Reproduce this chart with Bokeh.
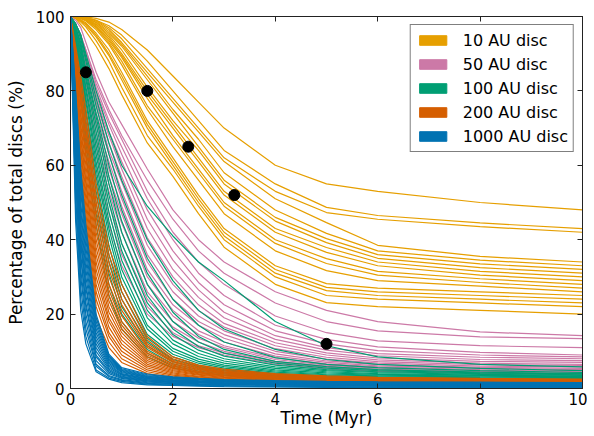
from bokeh.plotting import figure
from bokeh.models import (Range1d, LinearAxis, FixedTicker, Legend, LegendItem,
                          CustomLabelingPolicy)
from bokeh.embed import file_html
from bokeh.resources import INLINE

# ---------------- data ----------------
time_myr = [0, 0.1, 0.2, 0.3, 0.5, 0.75, 1.0, 1.5, 2.0, 2.5, 3.0, 4.0, 5.0, 6.0, 8.0, 10.0]

disc_10au = [
    [100, 100, 100, 99.9, 99.5, 98.5, 96.5, 91, 84, 77, 70, 60, 55, 53, 50, 48],
    [100, 100, 100, 99.8, 99, 97.5, 95, 88, 80, 72, 64, 55, 48.7, 46.5, 44.5, 43],
    [100, 100, 99.9, 99.7, 99, 97, 94, 86, 78, 70, 62, 53, 47.3, 45.5, 43.5, 42],
    [100, 100, 99.9, 99.7, 98.8, 96.5, 93, 85, 77, 69, 61, 51, 44.6, 38.5, 35.5, 34],
    [100, 100, 99.8, 99.6, 98.5, 96, 92.5, 84, 75, 67, 58, 48, 41.7, 37, 34.5, 33],
    [100, 99.9, 99.8, 99.5, 98.3, 95.5, 92, 83, 74, 65, 56, 46, 40.3, 36, 33.5, 32],
    [100, 99.9, 99.7, 99.4, 98, 95, 91, 81, 72, 64, 55, 45, 39.2, 35, 32.5, 31],
    [100, 99.9, 99.7, 99.3, 97.8, 94.5, 90, 80, 71, 62, 53, 43, 37.9, 34, 31.5, 30],
    [100, 99.8, 99.6, 99.2, 97.5, 94, 89.5, 79, 70, 61, 52, 42, 36.6, 33, 30.5, 29],
    [100, 99.8, 99.6, 99.1, 97.2, 93.5, 89, 78, 68, 59, 50, 40, 34.9, 31.5, 29.5, 28],
    [100, 99.8, 99.5, 99, 97, 93, 88, 76, 67, 58, 49, 39, 33.6, 30.5, 28.5, 27],
    [100, 99.7, 99.4, 98.8, 96.5, 92.5, 87, 75, 65, 56, 47, 37, 31.7, 29, 27.5, 26],
    [100, 99.7, 99.1, 98.3, 95.5, 91, 85, 72, 62, 52, 43, 33, 28.2, 27, 26, 25],
    [100, 99.6, 99, 98, 95, 90, 84, 71, 61, 51, 42, 32, 27.2, 26, 25, 24],
    [100, 99.6, 98.8, 97.7, 94.5, 89.5, 83, 70, 60, 50, 41, 31, 26.3, 25, 24, 23],
    [100, 99.5, 98.5, 97.2, 93.5, 88, 81, 68, 59, 49, 40, 30, 25, 24, 23, 22],
    [100, 99.5, 97.8, 96, 92, 86, 79, 66, 57, 47, 38, 28, 23.1, 22, 21, 20],
]

disc_50au = [
    [100, 88, 79, 71, 57, 44, 33, 20, 14, 11, 9, 6.5, 5.3, 4.6, 4.1, 3.8],
    [100, 90, 82, 74, 60, 47, 36, 22, 15, 11.5, 9.5, 7.0, 5.7, 5.0, 4.4, 4.0],
    [100, 92, 84, 77, 63, 50, 39, 24, 16.5, 12.5, 10, 7.3, 6.0, 5.2, 4.6, 4.3],
    [100, 93, 86, 79, 65, 53, 42, 26, 18, 13.5, 11, 7.8, 6.3, 5.5, 4.9, 4.5],
    [100, 94, 87, 80, 67, 55, 44.5, 28, 19.5, 14.5, 11.5, 8.2, 6.6, 5.8, 5.1, 4.8],
    [100, 95, 88, 82, 69, 57, 47, 30, 21, 15.5, 12.5, 8.7, 7.0, 6.1, 5.4, 5.1],
    [100, 95, 89, 83, 71, 59, 49, 32, 22.5, 17, 13.5, 9.3, 7.4, 6.4, 5.7, 5.4],
    [100, 96, 90, 84, 72, 61, 51, 34, 24, 18, 14.5, 10, 7.9, 6.8, 6.0, 5.8],
    [100, 96, 91, 85, 74, 63, 53, 36, 26, 19.5, 15.5, 10.7, 8.4, 7.2, 6.4, 6.2],
    [100, 97, 92, 86, 76, 64, 55.5, 38.5, 28, 21, 16.5, 11.5, 9.0, 7.7, 6.8, 6.5],
    [100, 97, 93, 87, 77, 66, 57, 40.5, 30, 22.5, 17.5, 12.3, 9.6, 8.2, 7.3, 7.0],
    [100, 97, 93, 88, 78, 68, 59, 43, 32, 24.5, 19, 13.2, 10.3, 8.8, 7.8, 7.5],
    [100, 98, 94, 89, 79, 69, 61, 45.5, 34.5, 26.5, 20.5, 14.2, 11, 9.4, 8.4, 8.0],
    [100, 98, 94, 89, 80, 71, 63, 48, 37, 28.5, 22.5, 15.5, 12, 10.2, 9.0, 8.5],
    [100, 98, 95, 90, 81, 72, 65, 51, 40, 31, 25, 17, 13.2, 11.2, 9.7, 9.0],
    [100, 98, 95, 91, 82, 74, 67, 53, 42, 34, 28, 19.5, 15, 12.8, 11.5, 11],
    [100, 98, 95, 91, 83, 75, 68, 56, 45.5, 37, 31, 23, 18, 15.5, 13.9, 13.4],
    [100, 99, 97, 93, 85, 77, 71, 59, 48, 40, 34, 26, 21, 18, 15.2, 14.2],
]

disc_100au = [
    [100, 90, 78, 63, 44, 25, 16, 8.5, 5.5, 4.3, 3.6, 2.8, 2.3, 2.0, 1.7, 1.5],
    [100, 91, 80, 66, 47, 28, 18, 9.5, 6.0, 4.7, 3.9, 3.0, 2.5, 2.2, 1.9, 1.7],
    [100, 92, 82, 68, 50, 31, 20, 10.5, 6.6, 5.1, 4.2, 3.2, 2.7, 2.4, 2.1, 1.9],
    [100, 93, 83, 70, 53, 34, 22, 11.5, 7.2, 5.5, 4.5, 3.4, 2.9, 2.6, 2.3, 2.1],
    [100, 93, 84, 72, 55, 36, 24, 12.5, 7.8, 5.9, 4.8, 3.6, 3.1, 2.8, 2.5, 2.3],
    [100, 94, 85, 74, 57, 38.5, 26, 13.5, 8.5, 6.3, 5.1, 3.9, 3.3, 3.0, 2.7, 2.5],
    [100, 94, 86, 75, 59, 41, 28, 14.5, 9.2, 6.8, 5.5, 4.1, 3.5, 3.2, 2.9, 2.7],
    [100, 95, 87, 77, 61, 43, 30, 16, 10, 7.3, 5.9, 4.4, 3.7, 3.4, 3.1, 2.9],
    [100, 95, 88, 78, 63, 45, 32, 17, 10.8, 7.9, 6.3, 4.7, 3.9, 3.6, 3.3, 3.1],
    [100, 96, 89, 80, 65, 47.5, 34.5, 19, 12, 8.6, 6.8, 5.0, 4.2, 3.8, 3.5, 3.2],
    [100, 96, 90, 81, 67, 50, 37, 21, 13, 9.4, 7.4, 5.4, 4.5, 4.0, 3.6, 3.3],
    [100, 96, 91, 83, 69, 52, 39, 23, 14.5, 10.3, 8.0, 5.8, 4.8, 4.3, 3.8, 3.5],
    [100, 97, 92, 84, 71, 55, 42, 25, 16, 11.3, 8.7, 6.3, 5.1, 4.5, 4.0, 3.7],
    [100, 97, 92, 85, 73, 57, 45, 28, 18, 12.5, 9.5, 6.8, 5.5, 4.8, 4.2, 3.9],
    [100, 97, 93, 86, 74, 60, 48, 31, 20.5, 14, 10.5, 7.3, 5.9, 5.1, 4.4, 4.0],
    [100, 98, 94, 88, 76, 63, 52, 35, 24, 17, 12.5, 8.3, 6.5, 5.6, 4.8, 4.3],
    [100, 98, 95, 89, 78, 66, 56, 40, 29, 21, 16, 10.5, 7.8, 6.5, 5.4, 4.8],
    [100, 98, 95, 90, 80, 69, 60, 49, 41, 34, 29, 18, 11.5, 8.5, 6.5, 5.8],
]

disc_200au = [
    [100, 72, 55, 42, 19, 11, 7.0, 4.0, 3.0, 2.5, 2.0, 1.5, 1.3, 1.2, 1.0, 0.8],
    [100, 75, 58, 45, 22, 12.5, 8.0, 4.5, 3.3, 2.7, 2.2, 1.7, 1.4, 1.3, 1.1, 0.9],
    [100, 77, 60, 47, 24, 14, 9.0, 5.0, 3.6, 2.9, 2.4, 1.8, 1.5, 1.4, 1.2, 1.0],
    [100, 78, 62, 49, 26, 15, 10, 5.5, 3.9, 3.1, 2.6, 2.0, 1.7, 1.5, 1.3, 1.1],
    [100, 80, 64, 51, 28, 16.5, 11, 6.0, 4.2, 3.3, 2.8, 2.1, 1.8, 1.6, 1.4, 1.2],
    [100, 81, 65, 53, 30, 18, 12, 6.5, 4.5, 3.6, 3.0, 2.3, 1.9, 1.7, 1.5, 1.3],
    [100, 82, 67, 55, 32, 19, 13, 7.0, 4.8, 3.8, 3.2, 2.4, 2.0, 1.8, 1.6, 1.4],
    [100, 83, 68, 56, 34, 20.5, 14, 7.5, 5.1, 4.0, 3.4, 2.5, 2.1, 1.9, 1.7, 1.5],
    [100, 84, 70, 58, 36, 22, 15, 8.0, 5.4, 4.2, 3.5, 2.6, 2.2, 2.0, 1.8, 1.6],
    [100, 85, 71, 60, 38, 23.5, 16, 8.5, 5.7, 4.4, 3.7, 2.8, 2.3, 2.1, 1.9, 1.7],
    [100, 86, 73, 62, 40, 25, 17, 9.0, 6.0, 4.6, 3.9, 2.9, 2.4, 2.2, 2.0, 1.8],
    [100, 87, 74, 63, 42, 26.5, 18, 9.5, 6.3, 4.9, 4.0, 3.0, 2.5, 2.3, 2.1, 1.9],
    [100, 88, 76, 65, 44, 28, 19.5, 10, 6.6, 5.1, 4.2, 3.2, 2.7, 2.4, 2.2, 2.0],
    [100, 89, 77, 67, 46, 30, 21, 11, 7.0, 5.3, 4.4, 3.3, 2.8, 2.5, 2.3, 2.1],
    [100, 90, 79, 69, 48, 32, 22.5, 11.5, 7.3, 5.5, 4.5, 3.5, 2.9, 2.6, 2.4, 2.2],
    [100, 90, 80, 70, 50, 34, 24, 12, 7.6, 5.7, 4.7, 3.6, 3.0, 2.7, 2.5, 2.3],
    [100, 91, 82, 72, 52, 36, 26, 13, 8.0, 6.0, 4.9, 3.8, 3.2, 2.9, 2.6, 2.4],
    [100, 92, 84, 75, 55, 38, 28, 14, 8.5, 6.3, 5.2, 4.0, 3.4, 3.0, 2.7, 2.5],
]

disc_1000au = [
    [100, 45, 21, 12, 4.5, 2.5, 1.6, 1.0, 0.8, 0.6, 0.5, 0.4, 0.3, 0.3, 0.2, 0.2],
    [100, 49, 24, 14, 5.0, 2.8, 1.9, 1.2, 0.9, 0.8, 0.7, 0.5, 0.4, 0.4, 0.3, 0.3],
    [100, 52, 27, 16, 6.0, 3.2, 2.2, 1.4, 1.1, 0.9, 0.8, 0.6, 0.5, 0.4, 0.4, 0.4],
    [100, 56, 30, 18, 6.5, 3.5, 2.4, 1.6, 1.3, 1.1, 1.0, 0.8, 0.7, 0.6, 0.5, 0.5],
    [100, 57, 32, 20, 7.5, 4.0, 2.7, 1.8, 1.4, 1.2, 1.1, 0.9, 0.8, 0.7, 0.6, 0.6],
    [100, 60, 35, 22, 8.5, 4.4, 2.9, 2.0, 1.6, 1.3, 1.2, 1.0, 0.9, 0.8, 0.7, 0.6],
    [100, 62, 36, 23, 9.0, 4.8, 3.1, 2.1, 1.7, 1.5, 1.3, 1.1, 0.9, 0.8, 0.8, 0.7],
    [100, 64, 39, 25, 10.0, 5.2, 3.3, 2.3, 1.8, 1.6, 1.4, 1.2, 1.0, 0.9, 0.8, 0.8],
    [100, 65, 40, 27, 11.0, 5.6, 3.6, 2.4, 1.9, 1.7, 1.5, 1.3, 1.1, 1.0, 0.9, 0.8],
    [100, 67, 42, 28, 12.0, 6.0, 3.8, 2.6, 2.1, 1.8, 1.6, 1.4, 1.2, 1.1, 1.0, 0.9],
    [100, 68, 44, 30, 13.0, 6.4, 4.0, 2.7, 2.2, 1.9, 1.7, 1.5, 1.3, 1.2, 1.1, 1.0],
    [100, 70, 46, 32, 14.0, 6.8, 4.3, 2.9, 2.3, 2.0, 1.8, 1.6, 1.4, 1.3, 1.1, 1.0],
    [100, 72, 48, 34, 15.0, 7.2, 4.5, 3.0, 2.4, 2.1, 1.9, 1.7, 1.5, 1.3, 1.2, 1.1],
    [100, 74, 50, 36, 16.0, 7.6, 4.7, 3.2, 2.6, 2.3, 2.0, 1.8, 1.5, 1.4, 1.3, 1.2],
    [100, 75, 53, 38, 17.0, 8.0, 4.9, 3.3, 2.7, 2.4, 2.1, 1.9, 1.6, 1.5, 1.4, 1.3],
    [100, 77, 55, 40, 18.0, 8.4, 5.1, 3.5, 2.8, 2.5, 2.2, 2.0, 1.7, 1.6, 1.5, 1.4],
    [100, 79, 57, 42, 19.0, 8.8, 5.3, 3.7, 3.0, 2.6, 2.3, 2.0, 1.8, 1.7, 1.6, 1.5],
    [100, 80, 59, 44, 20.0, 9.2, 5.6, 3.9, 3.1, 2.7, 2.4, 2.1, 1.9, 1.8, 1.7, 1.6],
]

dot_time = [0.3, 1.5, 2.3, 3.2, 5.0]
dot_pct = [85, 80, 65, 52, 12]

group_labels = ["10 AU disc", "50 AU disc", "100 AU disc", "200 AU disc", "1000 AU disc"]
group_colors = ["#E69F00", "#CC79A7", "#009E73", "#D55E00", "#0072B2"]
group_curves = [disc_10au, disc_50au, disc_100au, disc_200au, disc_1000au]

x_ticks = [0, 2, 4, 6, 8, 10]
y_ticks = [0, 20, 40, 60, 80, 100]

# ---------------- figure ----------------
FONT = "DejaVu Sans"
p = figure(frame_width=512, frame_height=372, output_backend="svg", toolbar_location=None,
           x_range=Range1d(0, 10), y_range=Range1d(0, 100),
           min_border_left=70, min_border_right=4, min_border_top=16, min_border_bottom=38)
p.grid.visible = False
p.background_fill_color = "white"
p.border_fill_color = "white"
p.outline_line_color = "#222222"
p.outline_line_width = 1

for ax in (p.xaxis[0], p.yaxis[0]):
    ax.major_tick_in = 5
    ax.major_tick_out = 0
    ax.minor_tick_line_color = None
    ax.axis_line_color = "#222222"
    ax.major_tick_line_color = "#222222"
    ax.major_label_text_font = FONT
    ax.major_label_text_font_size = "15px"
    ax.major_label_text_color = "black"
    ax.axis_label_text_font = FONT
    ax.axis_label_text_font_size = "17px"
    ax.axis_label_text_font_style = "normal"
    ax.axis_label_text_color = "black"

p.xaxis[0].ticker = FixedTicker(ticks=x_ticks)
p.yaxis[0].ticker = FixedTicker(ticks=y_ticks)
p.xaxis[0].axis_label = "Time (Myr)"
p.yaxis[0].axis_label = "Percentage of total discs (%)"
p.xaxis[0].major_label_standoff = 4
p.yaxis[0].major_label_standoff = 6
p.xaxis[0].axis_label_standoff = 0
p.yaxis[0].axis_label_standoff = 7

hide_all = CustomLabelingPolicy(code="""
    const all = Array.from(indices)
    for (const i of all) indices.unset(i)
    return indices
""")
for loc, ticks in (("above", x_ticks), ("right", y_ticks)):
    ax = LinearAxis(ticker=FixedTicker(ticks=ticks))
    ax.major_tick_in = 5
    ax.major_tick_out = 0
    ax.minor_tick_line_color = None
    ax.major_label_policy = hide_all
    ax.major_label_text_font_size = "1px"
    ax.major_label_standoff = 0
    ax.axis_line_color = "#222222"
    ax.major_tick_line_color = "#222222"
    p.add_layout(ax, loc)

nan = float("nan")
legend_items = []
for label, color, curves in zip(group_labels, group_colors, group_curves):
    p.multi_line(xs=[time_myr] * len(curves), ys=curves, line_color=color, line_width=1.2)
    swatch = p.quad(left=[nan], right=[nan], top=[nan], bottom=[nan],
                    fill_color=color, line_color=color)
    legend_items.append(LegendItem(label=label, renderers=[swatch]))

p.scatter(x=dot_time, y=dot_pct, size=11, marker="circle", color="black")

legend = Legend(items=legend_items, location="top_right", margin=8, padding=5, spacing=4,
                glyph_width=34, glyph_height=12, label_height=20, label_standoff=13,
                label_text_font=FONT, label_text_font_size="16px", label_text_color="black",
                border_line_color="black", border_line_width=1, background_fill_alpha=1)
p.add_layout(legend, "center")

open("out.html", "w").write(file_html(p, INLINE))
